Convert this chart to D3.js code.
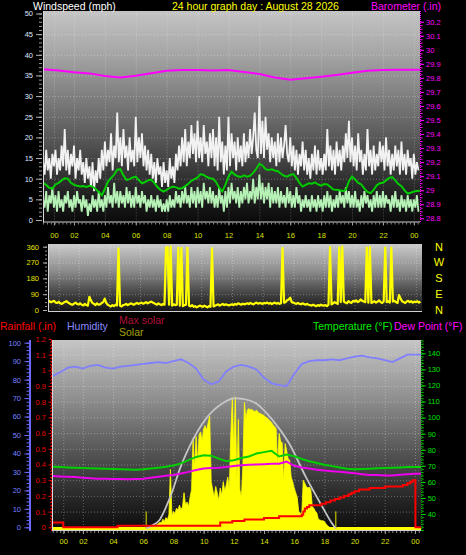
<!DOCTYPE html>
<html><head><meta charset="utf-8">
<script src="https://cdn.jsdelivr.net/npm/d3@7"></script>
<style>
html,body{margin:0;padding:0;background:#000;}
svg{display:block;}
</style></head><body>
<svg id="c" width="466" height="555"></svg>
<script>
// ---------------- DATA ----------------
const tickHours  = [0.7,2,4,6,8,10,12,14,16,18,20,22,24];
const tickLabels = ["00","02","04","06","08","10","12","14","16","18","20","22","00"];

// wind gust (mph), one sample every 0.1 h from 0
const gust = [
14,11,17,12,15,10,16,13,17,11, 15,12,18,13,22,12,17,11,16,13, 18,10,15,12,17,11,14,9,15,10,
13,8,14,7,12,9,15,10,17,12, 19,13,17,14,21,12,18,15,26,14, 20,13,22,15,18,12,20,14,17,13,
25,14,20,15,21,13,18,12,17,11, 16,10,14,9,15,11,13,8,14,9, 12,8,15,10,13,9,16,12,18,13,
20,14,22,13,19,15,23,16,21,14, 24,15,20,14,23,16,19,13,21,15, 22,13,20,12,25,14,19,11,18,12,
25,13,21,15,19,12,20,14,18,13, 21,14,19,15,22,16,20,26,17,15, 30,16,24,15,25,17,21,14,20,15,
19,13,21,14,20,15,18,23,16,14, 20,13,18,12,17,11,16,13,19,12, 17,11,15,10,16,12,18,11,17,12,
15,11,16,12,22,13,18,12,17,11, 19,13,17,12,18,14,21,15,24,14, 20,13,18,12,21,14,17,11,16,12,
22,13,17,11,18,12,16,13,19,14, 18,12,20,13,17,11,16,12,18,13, 17,11,19,12,16,11,17,13,15,10,
16,11,14,12];
// wind speed (mph), every 0.1 h
const speed = [
5,3,7,2,6,4,8,3,6,2, 7,3,5,2,6,4,7,3,5,2, 6,3,7,4,5,2,6,3,5,1,
4,2,6,3,5,2,7,3,5,2, 6,3,8,4,6,3,9,4,7,3, 7,4,6,3,8,4,7,3,6,3,
8,4,6,3,7,4,6,2,5,3, 6,3,5,2,6,3,5,2,4,2, 5,2,6,3,5,3,7,4,6,3,
7,4,8,4,6,3,8,4,7,3, 8,4,7,3,9,5,7,4,8,4, 7,3,6,3,8,4,6,2,7,3,
8,4,9,5,7,4,8,3,7,4, 8,5,9,4,7,5,10,4,8,5, 11,5,9,4,8,5,9,3,8,4,
7,4,8,3,7,4,6,3,8,4, 7,3,6,3,8,4,6,2,5,3, 6,3,5,2,6,3,5,2,6,3,
5,2,6,3,7,3,6,2,5,3, 6,3,7,4,6,3,8,4,7,3, 6,3,7,3,5,2,6,3,7,4,
6,3,5,2,6,3,7,3,6,3, 7,3,6,4,5,2,6,3,7,3, 5,2,6,3,5,2,6,3,5,2,
5,3,6,2];
// average wind speed (mph), every 0.2 h
const avgWind = [
9.0,8.5,7.8,7.6,8.6,9.0,9.6,10.1,10.0,9.0, 8.5,8.3,8.1,8.2,8.0,8.3,8.1,7.5,6.8,6.0,
7.5,9.3,10.2,11.0,12.2,12.3,10.8,9.7,9.9,10.3, 10.5,9.6,8.9,9.2,9.6,9.8,9.0,8.0,7.3,6.9,
7.3,7.8,8.1,7.9,7.6,7.7,8.2,8.8,9.5,9.9, 10.3,11.1,10.9,10.4,10.1,10.0,9.2,7.8,6.9,8.5,
10.5,11.7,11.0,10.6,10.4,10.8,10.5,10.7,11.4,12.4, 13.6,13.2,12.3,12.1,12.3,12.0,11.8,11.2,10.7,10.5,
10.9,11.1,10.2,9.0,8.1,8.5,8.9,8.8,9.1,8.6, 8.3,8.7,8.6,8.0,7.4,7.3,7.2,7.0,7.3,9.4,
10.5,9.8,9.0,8.6,7.6,6.8,6.5,7.3,8.4,8.9, 9.0,9.6,10.2,10.4,9.6,8.7,8.2,7.2,6.4,6.6,
6.9,7.0,7.1];
// barometer (in), hourly
const pressure = [29.862,29.853,29.840,29.832,29.814,29.803,29.815,29.833,29.850,29.856,29.856,29.852,29.856,
29.842,29.828,29.802,29.786,29.797,29.808,29.821,29.836,29.850,29.856,29.857,29.857,29.858];
// wind direction (deg), every 0.1 h
const windDir = [
45,50,44,48,52,42,40,46,38,35, 40,46,50,43,38,32,30,36,42,34, 32,38,30,26,35,28,25,75,55,40,
35,28,38,30,32,40,45,65,40,30, 25,20,28,22,30,26,350,24,20,28, 30,35,28,32,38,34,30,36,40,35,
38,42,36,40,45,38,42,48,44,40, 35,30,38,32,28,34,30,355,358,30, 360,25,32,28,30,355,25,352,22,28,
30,354,25,20,28,18,22,15,20,25, 22,18,25,20,15,22,18,350,20,25, 28,32,25,30,35,28,32,30,26,30,
32,28,35,30,38,34,30,36,32,35, 38,34,40,36,32,38,42,36,40,38, 35,40,38,42,36,40,34,38,42,36,
40,35,38,352,42,45,55,60,70,45, 42,38,35,40,36,32,38,34,30,35, 30,28,25,30,26,22,28,24,30,26,
25,28,22,30,358,32,38,45,40,35, 356,45,360,48,42,38,50,44,40,52, 48,55,45,50,60,52,48,45,355,42,
358,40,45,50,42,48,55,45,40,48, 355,45,50,42,355,48,52,45,40,85, 65,50,45,40,48,52,45,50,42,48,
45,50,42,48];
// humidity (%), temperature and dew point (F), every 0.5 h
const humidity = [82,84,86.5,87,86,87.5,88,86.5,86,87, 87.5,88,88.5,89,89.5,89,90,91,89,86,
80,77.5,79,84.5,87,88,87,85.5,81,78, 77,76.5,83,88.5,90,90.5,90.5,91,90.5,91.5,
92.5,93,92,91.5,90.5,89.5,91.5,93.5,93.5,93.5];
const temperature = [69.4,69.2,69,68.8,68.6,68.5,68.3,68.2,68,67.8, 67.7,67.6,67.8,68.3,68.8,69.4,70.2,71.5,73.5,75.5,
76.5,76.3,74.5,72.8,73.5,74.8,75.8,77.6,78.5,79.3, 75.8,77,76,74.2,72.8,71.8,70.7,69.8,69,68.2,
67.8,68,68.2,68.4,68.6,68.8,69,69.2,69.2,69.2];
const dewPoint = [63.6,63.4,63.2,63,62.6,62.3,62,62,61.8,61.8, 61.7,61.8,62,62.6,63.2,63.8,64.3,65.2,66.2,67.4,
68.3,68.6,68.8,69.2,69.8,70.3,70.6,70.8,71,71.2, 71.3,72.6,70,69,68.3,67.6,67,66.6,66.3,65.8,
65.3,64.8,64.3,64.2,64,64,64.4,64.8,65,65];
// rainfall (in), step changes
const rainHours = [0,0.7,4.3,11.1,11.9,12.7,14.0,15.0,16.5,16.6,16.7,16.85,17.0,17.8,18.1,18.4,18.7,19.0,19.3,19.6,19.8,20.0,20.3,21.0,22.0,23.2,23.5,23.7,23.85,24.03,24.4];
const rainValues= [0.03,0,0.01,0.03,0.04,0.05,0.06,0.07,0.08,0.10,0.12,0.13,0.14,0.15,0.16,0.17,0.18,0.19,0.20,0.21,0.22,0.23,0.24,0.25,0.26,0.27,0.28,0.29,0.30,0,0];
// solar (W/m2), every 0.1 h from 6.0 h
const solar = [
0,0,5,8,10,12,15,20,18,25, 30,40,35,60,45,70,55,90,380,80, 110,95,130,120,150,120,140,230,150,170,
140,200,250,580,380,590,420,600,620,560, 640,660,630,680,720,300,250,200,270,230, 180,260,210,300,240,280,330,250,600,840,
500,845,300,700,250,200,400,810,700,760, 770,760,765,755,750,760,745,740,735,730, 725,715,710,700,690,680,665,655,640,400,
610,560,550,300,545,500,445,440,330,300, 260,230,200,110,100,90,310,290,270,260, 265,250,140,130,110,100,60,55,50,50,
45,30,20,10,5,0,0,0,0,0, 0];
const solarStart = 6.0;
// max (clear-sky) solar
const maxSolarHours  = [6.2,6.6,7.08,7.52,7.96,8.4,9.06,10.17,11.26,12.03,12.7,13.46,14.56,15.66,16.76,17.86,18.5,18.75];
const maxSolarValues = [0,20,55,140,247,376,525,707,804,836,830,804,697,547,333,140,33,0];
const sunMarks = [6.2,18.75];

// ---------------- CHART ----------------
const FONT = "'Liberation Sans', Arial, sans-serif";
const svg = d3.select("#c").attr("font-family", FONT);
const defs = svg.append("defs");
function vgrad(id, stops){
  const g = defs.append("linearGradient").attr("id",id).attr("x1",0).attr("y1",0).attr("x2",0).attr("y2",1);
  stops.forEach(s=>g.append("stop").attr("offset",s[0]).attr("stop-color",s[1]));
}
vgrad("bgTop",[[0,"#c4c4c4"],[0.2,"#a6a6a6"],[0.45,"#767676"],[0.7,"#444444"],[0.88,"#1e1e1e"],[1,"#0a0a0a"]]);
vgrad("bgMid",[[0,"#cacaca"],[0.4,"#8c8c8c"],[0.75,"#3e3e3e"],[1,"#141414"]]);
vgrad("bgBot",[[0,"#c6c6c6"],[0.3,"#909090"],[0.6,"#525252"],[0.85,"#232323"],[1,"#0c0c0c"]]);

const P = {
  top:{x0:43,x1:420,y0:11,y1:222.5},
  mid:{x0:48,x1:422,y0:244,y1:312},
  bot:{x0:52,x1:421,y0:340,y1:531}
};
const xTop = d3.scaleLinear([0,24.4],[43.1,420]);
const xMid = d3.scaleLinear([0,24.4],[48,422]);
const xBot = d3.scaleLinear([0,24.4],[52.7,421]);
const yWind = d3.scaleLinear([0,50],[220,13.5]);
const yBaro = d3.scaleLinear([28.8,30.2],[218.3,21.7]);
const yDir  = d3.scaleLinear([0,360],[310,246.7]);
const yHum  = d3.scaleLinear([0,100],[527.3,342.7]);
const yRain = d3.scaleLinear([0,1.2],[527.3,338.9]);
const yTemp = d3.scaleLinear([40,140],[514,353.3]);
const ySolar= d3.scaleLinear([0,1210],[528.5,340]);

function panel(name,p,grad){
  defs.append("clipPath").attr("id","clip"+name).append("rect")
    .attr("x",p.x0).attr("y",p.y0).attr("width",p.x1-p.x0).attr("height",p.y1-p.y0);
  svg.append("rect").attr("x",p.x0).attr("y",p.y0).attr("width",p.x1-p.x0).attr("height",p.y1-p.y0)
    .attr("fill",`url(#${grad})`);
  return svg.append("g").attr("clip-path",`url(#clip${name})`);
}
function gridStyle(s){
  s.select(".domain").remove();
  s.selectAll("line").attr("stroke","#ffffff").attr("stroke-opacity",0.3).attr("stroke-dasharray","1,2");
}
function vgrid(g,x,p){
  g.append("g").attr("transform",`translate(0,${p.y1})`)
   .call(d3.axisBottom(x).tickValues(tickHours).tickSize(-(p.y1-p.y0)).tickFormat("")).call(gridStyle);
}
function hgrid(g,y,vals,p){
  g.append("g").attr("transform",`translate(${p.x0},0)`)
   .call(d3.axisLeft(y).tickValues(vals).tickSize(-(p.x1-p.x0)).tickFormat("")).call(gridStyle);
}
function frame(p){
  svg.append("line").attr("x1",p.x0+0.5).attr("x2",p.x0+0.5).attr("y1",p.y0).attr("y2",p.y1).attr("stroke","#d8d8d8");
  svg.append("line").attr("x1",p.x0).attr("x2",p.x1).attr("y1",p.y1-0.5).attr("y2",p.y1-0.5).attr("stroke","#d0d0d0");
}
function axisStyle(color,fs,lineColor){
  return s=>{
    s.attr("font-family",FONT).attr("font-size",fs);
    s.select(".domain").remove();
    s.selectAll("line").attr("stroke",lineColor||color);
    s.selectAll("text").attr("fill",color);
  };
}
function fmt(d){ return String(+d.toFixed(2)); }
const range = (a,b,s)=>d3.range(Math.round(a/s),Math.round(b/s)+1).map(k=>+(k*s).toFixed(4));

// ===== TOP PANEL =====
const gT = panel("T",P.top,"bgTop");
vgrid(gT,xTop,P.top);
hgrid(gT,yWind,range(5,50,5),P.top);
gT.append("path").datum(pressure).attr("fill","none").attr("stroke","#ff00ff").attr("stroke-width",2)
  .attr("d",d3.line().x((d,i)=>xTop(i)).y(d=>yBaro(d)));
gT.append("path").datum(gust).attr("fill","none").attr("stroke","#f2f2f2").attr("stroke-width",1.8)
  .attr("stroke-linejoin","bevel")
  .attr("d",d3.line().x((d,i)=>xTop(i*0.1)).y(d=>yWind(d)));
gT.append("path").datum(speed).attr("fill","none").attr("stroke","#b6f2b6").attr("stroke-width",1.8)
  .attr("stroke-linejoin","bevel")
  .attr("d",d3.line().x((d,i)=>xTop(i*0.1)).y(d=>yWind(d)));
gT.append("path").datum(avgWind).attr("fill","none").attr("stroke","#00cc00").attr("stroke-width",2)
  .attr("d",d3.line().x((d,i)=>xTop(i*0.2)).y(d=>yWind(d)));
frame(P.top);

svg.append("g").attr("transform","translate(42,0)")
  .call(d3.axisLeft(yWind).tickValues(range(0,50,1)).tickSize(3).tickFormat("")).call(axisStyle("#9a9a9a",7.5));
svg.append("g").attr("transform","translate(42,0)")
  .call(d3.axisLeft(yWind).tickValues(range(0,50,5)).tickSize(6).tickPadding(3).tickFormat(fmt)).call(axisStyle("#dfe6ff",7.5,"#b0b0b0"));
// barometer axis
svg.append("line").attr("x1",420.5).attr("x2",420.5).attr("y1",P.top.y0).attr("y2",P.top.y1)
  .attr("stroke","#ff00ff").attr("stroke-dasharray","1,1");
svg.append("g").attr("transform","translate(420.5,0)")
  .call(d3.axisRight(yBaro).tickValues(range(28.8,30.2,0.025)).tickSize(2).tickFormat("")).call(axisStyle("#ff00ff",7.5));
svg.append("g").attr("transform","translate(420.5,0)")
  .call(d3.axisRight(yBaro).tickValues(range(28.8,30.2,0.1)).tickSize(3.5).tickPadding(2).tickFormat(fmt)).call(axisStyle("#ff00ff",7.5));
// time axis
svg.append("g").attr("transform",`translate(0,${P.top.y1})`)
  .call(d3.axisBottom(xTop).tickValues(range(0,24.25,0.25)).tickSize(2).tickFormat("")).call(axisStyle("#8a8a8a",7.5));
svg.append("g").attr("transform",`translate(0,${P.top.y1})`)
  .call(d3.axisBottom(xTop).tickValues(tickHours).tickSize(3).tickPadding(7).tickFormat((d,i)=>tickLabels[i])).call(axisStyle("#dde000",7.5,"#a0a0a0"));

// ===== MIDDLE PANEL =====
const gM = panel("M",P.mid,"bgMid");
vgrid(gM,xMid,P.mid);
hgrid(gM,yDir,[90,180,270,360],P.mid);
gM.append("path").datum(windDir).attr("fill","none").attr("stroke","#ffff00").attr("stroke-width",2.2)
  .attr("stroke-linejoin","round")
  .attr("d",d3.line().x((d,i)=>xMid(i*0.1)).y(d=>yDir(d)));
frame(P.mid);
svg.append("g").attr("transform","translate(47,0)")
  .call(d3.axisLeft(yDir).tickValues(range(0,360,22.5)).tickSize(2).tickFormat("")).call(axisStyle("#9a9a9a",7.5));
svg.append("g").attr("transform","translate(47,0)")
  .call(d3.axisLeft(yDir).tickValues([0,90,180,270,360]).tickSize(4).tickPadding(4).tickFormat(fmt)).call(axisStyle("#e6e600",7.5,"#b0b0b0"));
const compass = [["N",360],["W",270],["S",180],["E",90],["N",0]];
svg.append("g").selectAll("text").data(compass).join("text")
  .attr("x",439).attr("y",d=>yDir(d[1])).attr("dy","0.36em").attr("text-anchor","middle")
  .attr("fill","#ffff00").attr("font-size",11).text(d=>d[0]);

// ===== BOTTOM PANEL =====
const gB = panel("B",P.bot,"bgBot");
vgrid(gB,xBot,P.bot);
hgrid(gB,yRain,range(0.1,1.2,0.1),P.bot);
gB.append("line").attr("x1",P.bot.x0).attr("x2",P.bot.x1).attr("y1",ySolar(0)).attr("y2",ySolar(0))
  .attr("stroke","#ffff00").attr("stroke-width",3);
gB.append("path").datum(solar).attr("fill","#ffff00").attr("stroke","#ffff00").attr("stroke-width",0.8)
  .attr("d",d3.area().x((d,i)=>xBot(solarStart+i*0.1)).y0(ySolar(0)).y1(d=>ySolar(d)));
gB.selectAll(".sun").data(sunMarks).join("line").attr("class","sun")
  .attr("x1",d=>xBot(d)).attr("x2",d=>xBot(d)).attr("y1",ySolar(0)).attr("y2",ySolar(110))
  .attr("stroke","#a0a000").attr("stroke-width",1.5);
gB.append("path").datum(maxSolarValues).attr("fill","none").attr("stroke","#c4c4c4").attr("stroke-width",1.8)
  .attr("d",d3.line().curve(d3.curveMonotoneX).x((d,i)=>xBot(maxSolarHours[i])).y(d=>ySolar(d)));
gB.append("path").datum(dewPoint).attr("fill","none").attr("stroke","#ee00ee").attr("stroke-width",2)
  .attr("d",d3.line().x((d,i)=>xBot(i*0.5)).y(d=>yTemp(d)));
gB.append("path").datum(temperature).attr("fill","none").attr("stroke","#00d000").attr("stroke-width",2)
  .attr("d",d3.line().x((d,i)=>xBot(i*0.5)).y(d=>yTemp(d)));
gB.append("path").datum(humidity).attr("fill","none").attr("stroke","#8080ff").attr("stroke-width",1.8)
  .attr("d",d3.line().x((d,i)=>xBot(i*0.5)).y(d=>yHum(d)));
gB.append("path").datum(rainValues).attr("fill","none").attr("stroke","#ff0000").attr("stroke-width",2)
  .attr("d",d3.line().curve(d3.curveStepAfter).x((d,i)=>xBot(rainHours[i])).y(d=>yRain(d)));
frame(P.bot);

// humidity axis
svg.append("line").attr("x1",30).attr("x2",30).attr("y1",340).attr("y2",531).attr("stroke","#6a6aff").attr("stroke-width",2);
svg.append("g").attr("transform","translate(29,0)")
  .call(d3.axisLeft(yHum).tickValues(range(0,100,2)).tickSize(2.5).tickFormat("")).call(axisStyle("#6a6aff",7.5));
svg.append("g").attr("transform","translate(29,0)")
  .call(d3.axisLeft(yHum).tickValues(range(0,100,10)).tickSize(4.5).tickPadding(3.5).tickFormat(fmt)).call(axisStyle("#7a80ff",7.5,"#6a6aff"));
// rain axis
svg.append("line").attr("x1",51.5).attr("x2",51.5).attr("y1",340).attr("y2",531).attr("stroke","#e00000").attr("stroke-dasharray","2,1.5");
svg.append("g").attr("transform","translate(51.5,0)")
  .call(d3.axisLeft(yRain).tickValues(range(0,1.2,0.02)).tickSize(1.5).tickFormat("")).call(axisStyle("#e00000",7.5));
svg.append("g").attr("transform","translate(51.5,0)")
  .call(d3.axisLeft(yRain).tickValues(range(0,1.2,0.1)).tickSize(3).tickPadding(2.5).tickFormat(fmt)).call(axisStyle("#e80000",7.5));
// temperature axis
svg.append("line").attr("x1",421.7).attr("x2",421.7).attr("y1",340).attr("y2",531).attr("stroke","#00d000").attr("stroke-dasharray","1,1");
svg.append("g").attr("transform","translate(421.7,0)")
  .call(d3.axisRight(yTemp).tickValues(range(30,148,2)).tickSize(2).tickFormat("")).call(axisStyle("#00d000",7.5));
svg.append("g").attr("transform","translate(421.7,0)")
  .call(d3.axisRight(yTemp).tickValues(range(40,140,10)).tickSize(4).tickPadding(2).tickFormat(fmt)).call(axisStyle("#00e000",7.5));
// time axis
svg.append("g").attr("transform",`translate(0,${P.bot.y1})`)
  .call(d3.axisBottom(xBot).tickValues(range(0,24.25,0.25)).tickSize(2).tickFormat("")).call(axisStyle("#8a8a8a",7.5));
svg.append("g").attr("transform",`translate(0,${P.bot.y1})`)
  .call(d3.axisBottom(xBot).tickValues(tickHours).tickSize(3).tickPadding(5).tickFormat((d,i)=>tickLabels[i])).call(axisStyle("#dde000",7.5,"#a0a0a0"));

// ===== TEXTS =====
const texts = [
  ["Windspeed (mph)",33,9.5,"#ffffff"],
  ["24 hour graph day : August 28 2026",172,9.5,"#ffff00"],
  ["Barometer (.in)",371,9.5,"#ff00ff"],
  ["Rainfall (.in)",0,330,"#ff0000"],
  ["Humidity",67,330,"#8a8aff"],
  ["Max solar",119,324,"#b0103a"],
  ["Solar",119,336,"#a0a000"],
  ["Temperature (°F)",313,330,"#00ee00"],
  ["Dew Point (°F)",394,330,"#ff00ff"]
];
svg.append("g").selectAll("text").data(texts).join("text")
  .attr("x",d=>d[1]).attr("y",d=>d[2]).attr("fill",d=>d[3]).attr("font-size",10.5).text(d=>d[0]);
</script></body></html>
